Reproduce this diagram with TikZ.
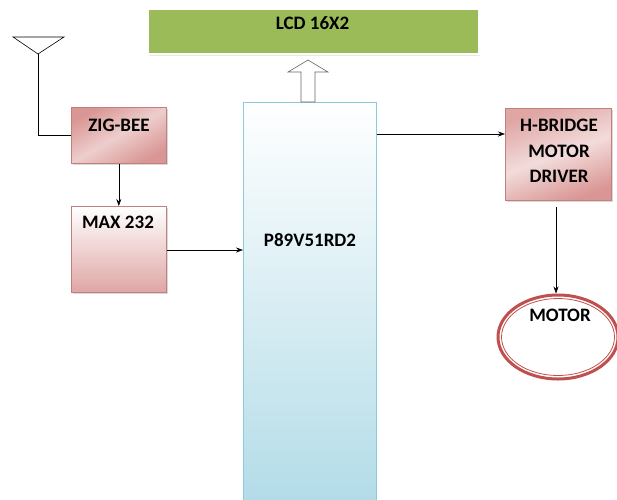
\documentclass[tikz,border=0pt]{standalone}
\usepackage{fontspec}
\setmainfont{Carlito}
\usetikzlibrary{arrows.meta,shadows,shapes.geometric}
\definecolor{lcdgreen}{HTML}{9BBB59}
\definecolor{pinkd}{HTML}{D99694}
\definecolor{pinkl}{HTML}{F2DCDB}
\definecolor{pinkb}{HTML}{C0807E}
\definecolor{blued}{HTML}{B3DCE8}
\definecolor{blueb}{HTML}{8CCBDD}
\definecolor{motred}{HTML}{C0504D}
\begin{document}
\begin{tikzpicture}[x=1pt,y=-1pt,
  every node/.style={font=\fontsize{19}{22}\selectfont\bfseries},
  pinkbox/.style={draw=pinkb, line width=0.6pt, inner sep=0pt,
    drop shadow={opacity=0.3, shadow xshift=1.5pt, shadow yshift=-2pt}},
  conn/.style={draw, line width=0.6pt, -{Stealth[length=7pt,width=5pt]}},
  lbl/.style={inner sep=0pt, anchor=base}
]
\useasboundingbox (0,0) rectangle (617,499);
% LCD
\node[draw=white, line width=2pt, fill=lcdgreen, minimum width=331pt, minimum height=45pt,
  anchor=north west, inner sep=0pt,
  drop shadow={opacity=0.18, shadow xshift=1pt, shadow yshift=-2pt}] (lcd) at (147,8) {};
\node[lbl] at (312.5,29.5) {LCD 16X2};
% P89 box
\node[draw=blueb, line width=0.7pt, top color=white, bottom color=blued,
  minimum width=133pt, minimum height=400pt, anchor=north west, inner sep=0pt] (mcu) at (243,102) {};
\node[lbl] at (310,246) {P89V51RD2};
% hollow arrow
\draw[gray!80!black, line width=0.6pt, fill=white]
  (301,102) -- (301,72) -- (288,72) -- (308,60) -- (328,72) -- (315,72) -- (315,102) -- cycle;
% ZIG-BEE
\node[pinkbox, top color=pinkd, bottom color=pinkd, middle color=pinkl!80!pinkd,
  shading angle=30, minimum width=95pt, minimum height=56pt, anchor=north west] (zig) at (71,107) {};
\node[lbl] at (119,131) {ZIG-BEE};
% MAX 232
\node[pinkbox, top color=white, bottom color=pinkd!85,
  minimum width=95pt, minimum height=86pt, anchor=north west] (max) at (71,206) {};
\node[lbl] at (118,228) {MAX 232};
% H-BRIDGE
\node[pinkbox, top color=pinkd!85, bottom color=pinkd, middle color=pinkl,
  shading angle=20, minimum width=106pt, minimum height=92pt, anchor=north west] (hb) at (505,108) {};
\node[lbl] at (559,131) {H-BRIDGE};
\node[lbl] at (559,157) {MOTOR};
\node[lbl] at (559,182) {DRIVER};
% MOTOR
\node[ellipse, draw=motred, line width=3pt, minimum width=120pt, minimum height=84pt,
  inner sep=0pt] (mot) at (558,337) {};
\draw[motred, line width=0.8pt] (558,337) ellipse [x radius=56.5pt, y radius=38.5pt];
\node[lbl] at (560,321) {MOTOR};
% antenna
\coordinate (ant) at (38,54);
\draw[line width=0.6pt] (13,37) -- (64,37) -- (ant) -- cycle;
\draw[line width=0.6pt] (ant) |- (zig.west);
% connectors
\draw[conn] (zig.south) -- (max.north);
\draw[conn] (max.east |- 0,250) -- (mcu.west |- 0,250);
\draw[conn] (mcu.east |- 0,134) -- (hb.west |- 0,134);
\draw[conn] (556,207) -- (mot.north -| 556,0);
\end{tikzpicture}
\end{document}
